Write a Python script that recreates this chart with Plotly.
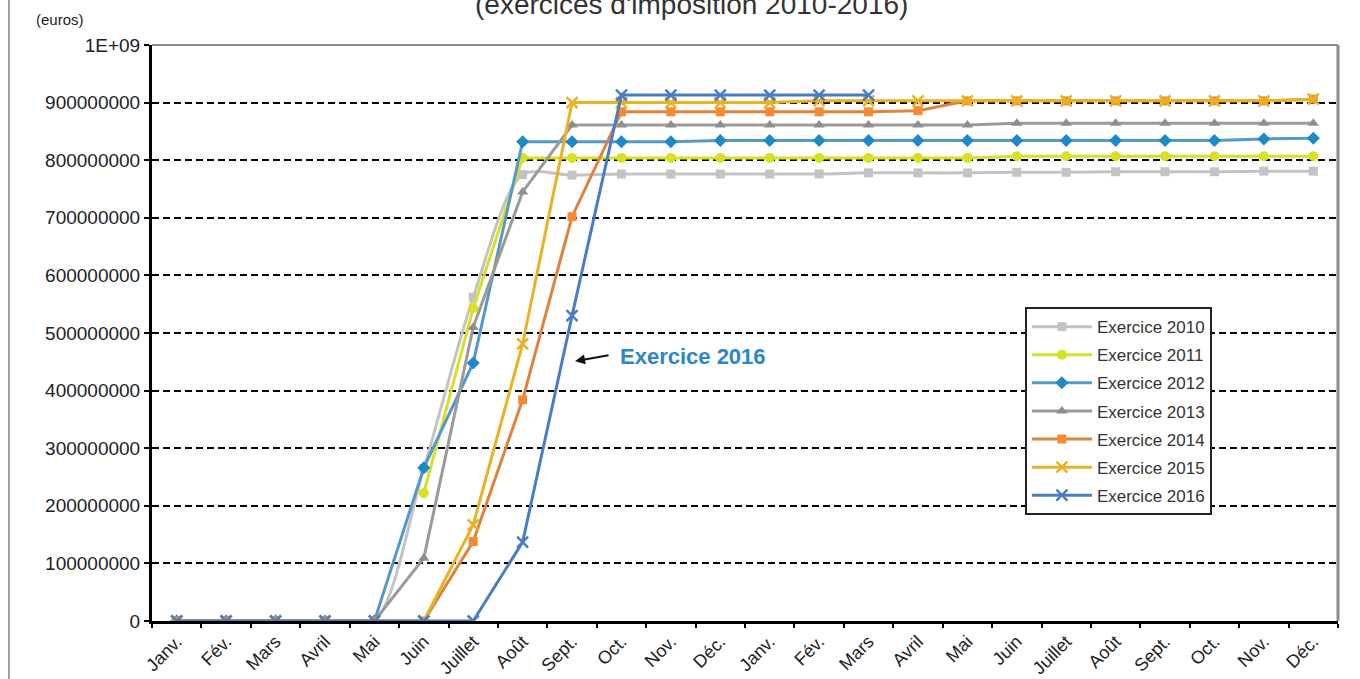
import plotly.graph_objects as go

# Month labels over two consecutive years (24 monthly readings)
mois = ["Janv.", "Fév.", "Mars", "Avril", "Mai", "Juin", "Juillet", "Août",
        "Sept.", "Oct.", "Nov.", "Déc.", "Janv.", "Fév.", "Mars", "Avril",
        "Mai", "Juin", "Juillet", "Août", "Sept.", "Oct.", "Nov.", "Déc."]

N = None
ex2010 = [0, 0, 0, 0, 0, 265e6, 562e6, 775e6, 774e6, 776e6, 776e6, 776e6,
          776e6, 776e6, 778e6, 778e6, 778e6, 779e6, 779e6, 780e6, 780e6, 780e6, 781e6, 781e6]
ex2011 = [N, N, N, N, N, 222e6, 543e6, 804e6, 804e6, 804e6, 804e6, 804e6,
          804e6, 804e6, 804e6, 804e6, 804e6, 807e6, 807e6, 807e6, 807e6, 807e6, 807e6, 807e6]
ex2012 = [0, 0, 0, 0, 0, 266e6, 448e6, 832e6, 832e6, 832e6, 832e6, 834e6,
          834e6, 834e6, 834e6, 834e6, 834e6, 834e6, 834e6, 834e6, 834e6, 834e6, 837e6, 838e6]
ex2013 = [0, 0, 0, 0, 0, 109e6, 510e6, 745e6, 861e6, 861e6, 861e6, 861e6,
          861e6, 861e6, 861e6, 861e6, 861e6, 864e6, 864e6, 864e6, 864e6, 864e6, 864e6, 864e6]
ex2014 = [0, 0, 0, 0, 0, 0, 138e6, 384e6, 702e6, 884e6, 884e6, 884e6,
          884e6, 884e6, 884e6, 886e6, 903e6, 903e6, 903e6, 903e6, 903e6, 903e6, 903e6, 906e6]
ex2015 = [0, 0, 0, 0, 0, 0, 167e6, 481e6, 900e6, 900e6, 900e6, 900e6,
          900e6, 903e6, 903e6, 903e6, 903e6, 903e6, 903e6, 903e6, 903e6, 903e6, 903e6, 906e6]
ex2016 = [0, 0, 0, 0, 0, 0, 0, 137e6, 530e6, 913e6, 913e6, 913e6,
          913e6, 913e6, 913e6]

y_ticks = [0, 1e8, 2e8, 3e8, 4e8, 5e8, 6e8, 7e8, 8e8, 9e8, 1e9]
y_labels = ["0", "100000000", "200000000", "300000000", "400000000", "500000000",
            "600000000", "700000000", "800000000", "900000000", "1E+09"]

series = [
    ("Exercice 2010", ex2010, "#c3c3c3", "#c3c3c3", "square", 9, "spline"),
    ("Exercice 2011", ex2011, "#d6e024", "#d6e024", "circle", 10, "linear"),
    ("Exercice 2012", ex2012, "#5598cc", "#1c8ac4", "diamond", 10, "linear"),
    ("Exercice 2013", ex2013, "#9a9a9a", "#8e8e8e", "triangle-up", 10, "linear"),
    ("Exercice 2014", ex2014, "#e0823f", "#f58a31", "square", 9, "linear"),
    ("Exercice 2015", ex2015, "#e8b224", "#e8b224", "x-thin", 11, "linear"),
    ("Exercice 2016", ex2016, "#4a7cc4", "#4a7cc4", "x-thin", 11, "linear"),
]

FONT = "Liberation Sans, Arial, sans-serif"

fig = go.Figure()
for name, vals, lc, mc, sym, size, shape in series:
    marker = dict(symbol=sym, size=size, color=mc)
    if sym == "x-thin":
        marker["line"] = dict(color=mc, width=2.5)
    fig.add_trace(go.Scatter(
        x=list(range(len(vals))), y=vals, name=name, legendgroup=name,
        mode="lines+markers",
        line=dict(color=lc, width=3, shape=shape, smoothing=0.8),
        marker=marker, connectgaps=False,
    ))

fig.update_layout(
    width=1360, height=679,
    margin=dict(l=152, r=22, t=45, b=58, autoexpand=False),
    paper_bgcolor="white", plot_bgcolor="white",
    font=dict(family=FONT, color="#222222"),
    showlegend=True,
    legend=dict(
        x=0.736, y=0.545, xanchor="left", yanchor="top",
        bgcolor="white", bordercolor="#222222", borderwidth=2,
        font=dict(size=17, color="#333333"),
        tracegroupgap=3, itemwidth=60,
    ),
    xaxis=dict(
        range=[-0.5, 23.5], tickmode="array", automargin=False,
        tickvals=list(range(len(mois))), ticktext=mois,
        tickangle=-45, ticks="", showgrid=False, zeroline=False,
        showline=True, linecolor="black", linewidth=3,
        tickfont=dict(size=18, color="#222222"),
        minor=dict(tickmode="array", tickvals=[i - 0.5 for i in range(len(mois) + 1)],
                   ticks="outside", ticklen=4, tickcolor="black", tickwidth=2,
                   showgrid=False),
    ),
    yaxis=dict(
        range=[0, 1e9], tickmode="array", tickvals=y_ticks, ticktext=y_labels,
        automargin=False,
        ticks="outside", ticklen=5, tickcolor="black", tickwidth=2,
        showgrid=True, gridcolor="black", gridwidth=1.5, griddash="7px,4px",
        zeroline=False, showline=True, linecolor="black", linewidth=3,
        tickfont=dict(size=19, color="#222222"),
    ),
)

# Plot frame on the top and right sides
fig.add_shape(type="line", xref="paper", yref="paper", x0=0, x1=1, y0=1, y1=1,
              line=dict(color="#8c8c8c", width=2), layer="above")
fig.add_shape(type="line", xref="paper", yref="paper", x0=1, x1=1, y0=0, y1=1,
              line=dict(color="#8c8c8c", width=3), layer="above")
# Thin page border on the left
fig.add_shape(type="line", xref="paper", yref="paper", x0=-0.1206, x1=-0.1206,
              y0=-0.2, y1=1.2, line=dict(color="#444444", width=1))

# Title (its upper part runs past the top of the page)
fig.add_annotation(text="(exercices d'imposition 2010-2016)", xref="paper", yref="paper",
                   x=0.455, y=1.0, yshift=41, xanchor="center", yanchor="middle",
                   showarrow=False, font=dict(size=28, color="#333333"))
fig.add_annotation(text="(euros)", xref="paper", yref="paper",
                   x=-0.0995, y=1.0, yshift=26, xanchor="left", yanchor="middle",
                   showarrow=False, font=dict(size=15, color="#222222"))

# Callout for the 2016 series
fig.add_annotation(text="<b>Exercice 2016</b>", x=10.45, y=460e6, xref="x", yref="y",
                   xanchor="center", yanchor="middle", showarrow=False,
                   font=dict(size=22, color="#2e86c8"))
fig.add_annotation(x=8.06, y=451e6, ax=8.77, ay=462e6, xref="x", yref="y",
                   axref="x", ayref="y", text="", showarrow=True,
                   arrowhead=2, arrowsize=1, arrowwidth=2, arrowcolor="#111111")

fig.write_html("out.html")
